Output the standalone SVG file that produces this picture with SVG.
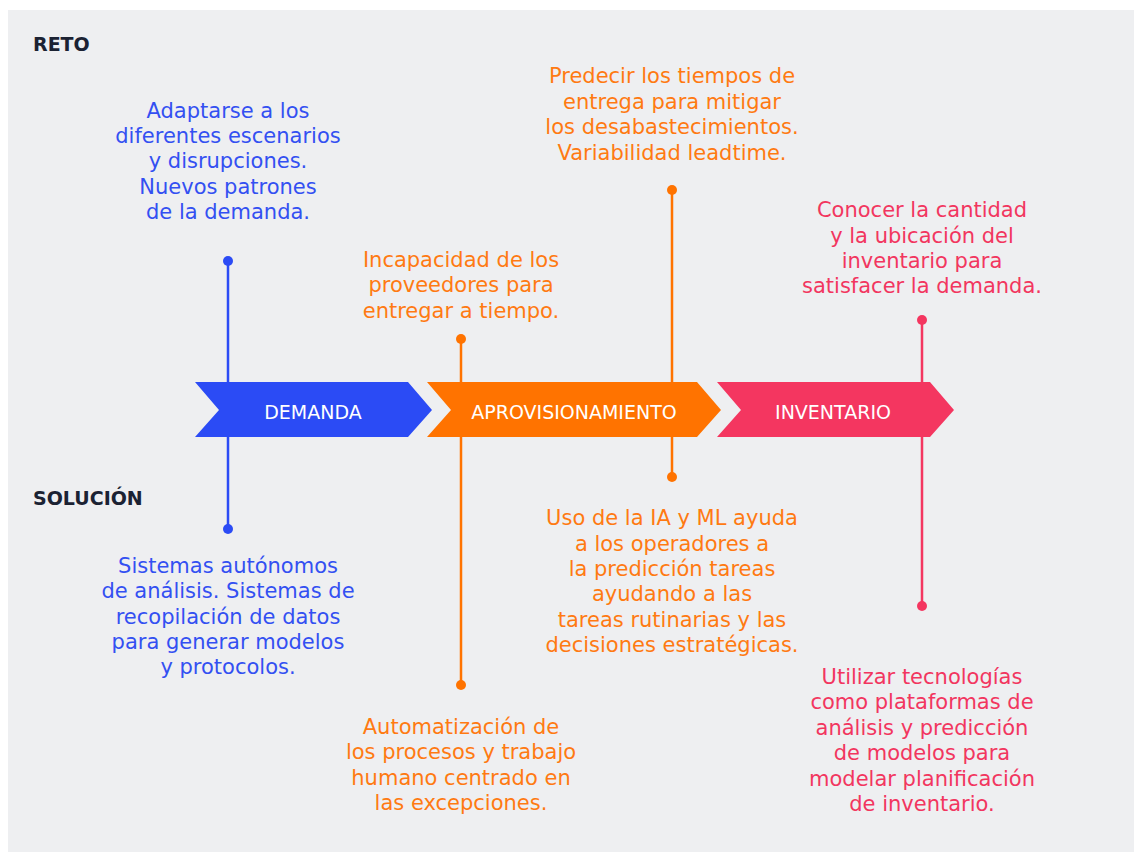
<svg xmlns="http://www.w3.org/2000/svg" width="1135" height="852" viewBox="0 0 1135 852">
<style>
.t{font-family:"DejaVu Sans","Open Sans",sans-serif;font-size:21px;text-anchor:middle}
.b{fill:#3350F2}.o{fill:#FF7A12}.p{fill:#F2365F}
.h{font-family:"DejaVu Sans","Open Sans",sans-serif;font-size:19px;font-weight:bold;fill:#1B2233}
.c{font-family:"DejaVu Sans","Open Sans",sans-serif;font-size:19px;fill:#FFFFFF;text-anchor:middle}
.lb{stroke:#2B4BF5;stroke-width:2.5}.lo{stroke:#FF7300;stroke-width:2.5}.lp{stroke:#F43660;stroke-width:2.5}
</style>
<rect x="8" y="10" width="1126" height="842" fill="#EEEFF1"/>
<text class="h" x="33" y="51">RETO</text>
<text class="h" x="33" y="505">SOLUCIÓN</text>
<g id="connectors">
<line class="lb" x1="228" y1="261" x2="228" y2="529"/>
<circle cx="228" cy="261" r="5" fill="#2B4BF5"/>
<circle cx="228" cy="529" r="5" fill="#2B4BF5"/>
<line class="lo" x1="461" y1="339" x2="461" y2="685"/>
<circle cx="461" cy="339" r="5" fill="#FF7300"/>
<circle cx="461" cy="685" r="5" fill="#FF7300"/>
<line class="lo" x1="672" y1="190" x2="672" y2="477"/>
<circle cx="672" cy="190" r="5" fill="#FF7300"/>
<circle cx="672" cy="477" r="5" fill="#FF7300"/>
<line class="lp" x1="922" y1="320" x2="922" y2="606"/>
<circle cx="922" cy="320" r="5" fill="#F43660"/>
<circle cx="922" cy="606" r="5" fill="#F43660"/>
</g>
<g id="demanda">
<polygon points="195,382 408,382 432,410 408,437 195,437 219,410" fill="#2B4BF5"/>
<text class="c" x="313" y="419">DEMANDA</text>
</g>
<g id="aprovisionamiento">
<polygon points="427,382 697,382 721,410 697,437 427,437 451,410" fill="#FF7300"/>
<text class="c" x="574" y="419">APROVISIONAMIENTO</text>
</g>
<g id="inventario">
<polygon points="717,382 930,382 954,410 930,437 717,437 741,410" fill="#F43660"/>
<text class="c" x="833" y="419">INVENTARIO</text>
</g>
<g id="reto-demanda">
<text class="t b" x="228" y="118">Adaptarse a los</text>
<text class="t b" x="228" y="143">diferentes escenarios</text>
<text class="t b" x="228" y="168">y disrupciones.</text>
<text class="t b" x="228" y="194">Nuevos patrones</text>
<text class="t b" x="228" y="219">de la demanda.</text>
</g>
<g id="reto-proveedores">
<text class="t o" x="461" y="267">Incapacidad de los</text>
<text class="t o" x="461" y="292">proveedores para</text>
<text class="t o" x="461" y="318">entregar a tiempo.</text>
</g>
<g id="reto-leadtime">
<text class="t o" x="672" y="83">Predecir los tiempos de</text>
<text class="t o" x="672" y="109">entrega para mitigar</text>
<text class="t o" x="672" y="134">los desabastecimientos.</text>
<text class="t o" x="672" y="160">Variabilidad leadtime.</text>
</g>
<g id="reto-inventario">
<text class="t p" x="922" y="217">Conocer la cantidad</text>
<text class="t p" x="922" y="243">y la ubicación del</text>
<text class="t p" x="922" y="268">inventario para</text>
<text class="t p" x="922" y="293">satisfacer la demanda.</text>
</g>
<g id="solucion-demanda">
<text class="t b" x="228" y="573">Sistemas autónomos</text>
<text class="t b" x="228" y="598">de análisis. Sistemas de</text>
<text class="t b" x="228" y="624">recopilación de datos</text>
<text class="t b" x="228" y="649">para generar modelos</text>
<text class="t b" x="228" y="674">y protocolos.</text>
</g>
<g id="solucion-automatizacion">
<text class="t o" x="461" y="734">Automatización de</text>
<text class="t o" x="461" y="759">los procesos y trabajo</text>
<text class="t o" x="461" y="785">humano centrado en</text>
<text class="t o" x="461" y="810">las excepciones.</text>
</g>
<g id="solucion-ia">
<text class="t o" x="672" y="525">Uso de la IA y ML ayuda</text>
<text class="t o" x="672" y="551">a los operadores a</text>
<text class="t o" x="672" y="576">la predicción tareas</text>
<text class="t o" x="672" y="601">ayudando a las</text>
<text class="t o" x="672" y="627">tareas rutinarias y las</text>
<text class="t o" x="672" y="652">decisiones estratégicas.</text>
</g>
<g id="solucion-inventario">
<text class="t p" x="922" y="684">Utilizar tecnologías</text>
<text class="t p" x="922" y="709">como plataformas de</text>
<text class="t p" x="922" y="735">análisis y predicción</text>
<text class="t p" x="922" y="760">de modelos para</text>
<text class="t p" x="922" y="786">modelar planificación</text>
<text class="t p" x="922" y="811">de inventario.</text>
</g>
</svg>
